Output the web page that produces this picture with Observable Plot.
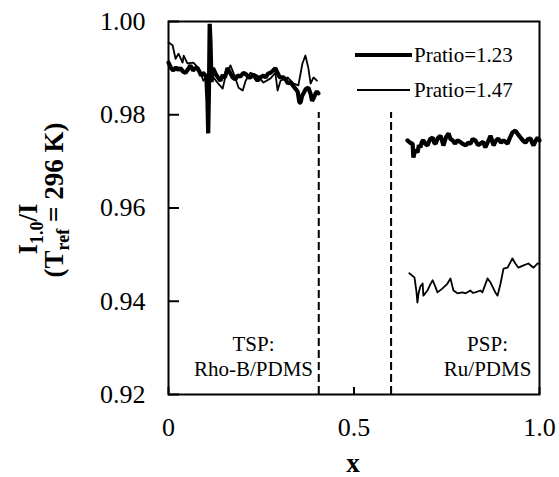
<!DOCTYPE html>
<html>
<head>
<meta charset="utf-8">
<script src="https://cdn.jsdelivr.net/npm/d3@7"></script>
<script src="https://cdn.jsdelivr.net/npm/@observablehq/plot@0.6"></script>
<style>
  html, body { margin: 0; padding: 0; background: #fff; }
</style>
</head>
<body>
<div id="chart"></div>
<script>
// ---- data ----
const seriesNames = ["Pratio=1.23", "Pratio=1.47"];

// Pratio=1.23 (thick), TSP region [x, I1.0/I]
const tsp123 = [[0,0.9912],[0.007,0.9900],[0.013,0.9895],[0.020,0.9902],[0.026,0.9896],[0.032,0.9900],[0.040,0.9892],[0.046,0.9890],[0.052,0.9897],[0.059,0.9906],[0.066,0.9895],[0.072,0.9900],[0.078,0.9900],[0.083,0.9893],[0.088,0.9884],[0.093,0.9890],[0.098,0.9886],[0.102,0.9880],[0.105,0.9830],[0.107,0.9760],[0.109,0.9850],[0.111,0.9995],[0.113,0.9960],[0.116,0.9870],[0.120,0.9900],[0.127,0.9888],[0.133,0.9880],[0.140,0.9873],[0.146,0.9885],[0.152,0.9880],[0.159,0.9900],[0.166,0.9890],[0.173,0.9880],[0.180,0.9876],[0.186,0.9884],[0.194,0.9882],[0.202,0.9890],[0.210,0.9886],[0.216,0.9880],[0.221,0.9880],[0.228,0.9887],[0.234,0.9880],[0.240,0.9873],[0.247,0.9880],[0.256,0.9884],[0.262,0.9880],[0.268,0.9888],[0.275,0.9890],[0.282,0.9895],[0.288,0.9900],[0.294,0.9890],[0.300,0.9880],[0.310,0.9880],[0.316,0.9875],[0.322,0.9867],[0.329,0.9870],[0.336,0.9862],[0.342,0.9856],[0.348,0.9850],[0.353,0.9826],[0.356,0.9826],[0.360,0.9840],[0.364,0.9846],[0.370,0.9855],[0.377,0.9858],[0.383,0.9845],[0.387,0.9830],[0.391,0.9835],[0.396,0.9845],[0.400,0.9850],[0.404,0.9846]];

// Pratio=1.47 (thin), TSP region
const tsp147 = [[0,0.9955],[0.011,0.9949],[0.019,0.9920],[0.027,0.9931],[0.038,0.9912],[0.041,0.9927],[0.051,0.9910],[0.067,0.9912],[0.081,0.9900],[0.086,0.9890],[0.094,0.9873],[0.105,0.9885],[0.113,0.9895],[0.121,0.9880],[0.132,0.9869],[0.146,0.9856],[0.154,0.9884],[0.167,0.9906],[0.175,0.9890],[0.189,0.9858],[0.200,0.9852],[0.208,0.9873],[0.221,0.9890],[0.240,0.9884],[0.256,0.9869],[0.275,0.9878],[0.288,0.9890],[0.294,0.9852],[0.302,0.9873],[0.321,0.9880],[0.337,0.9867],[0.350,0.9863],[0.361,0.9910],[0.369,0.9927],[0.377,0.9900],[0.383,0.9867],[0.391,0.9880],[0.400,0.9873]];

// Pratio=1.23 (thick), PSP region
const psp123 = [[0.644,0.9745],[0.651,0.9740],[0.658,0.9738],[0.660,0.9708],[0.665,0.9725],[0.671,0.9719],[0.675,0.9735],[0.679,0.9730],[0.683,0.9742],[0.687,0.9745],[0.692,0.9738],[0.698,0.9734],[0.705,0.9748],[0.712,0.9751],[0.716,0.9740],[0.720,0.9738],[0.726,0.9750],[0.733,0.9755],[0.737,0.9745],[0.741,0.9734],[0.748,0.9752],[0.755,0.9760],[0.760,0.9748],[0.766,0.9745],[0.772,0.9738],[0.779,0.9745],[0.786,0.9742],[0.792,0.9738],[0.801,0.9734],[0.807,0.9740],[0.814,0.9738],[0.820,0.9748],[0.827,0.9745],[0.834,0.9735],[0.841,0.9738],[0.848,0.9742],[0.854,0.9730],[0.861,0.9742],[0.868,0.9755],[0.872,0.9745],[0.876,0.9734],[0.883,0.9745],[0.889,0.9749],[0.896,0.9740],[0.903,0.9745],[0.908,0.9742],[0.914,0.9738],[0.920,0.9750],[0.927,0.9762],[0.935,0.9766],[0.942,0.9758],[0.949,0.9751],[0.955,0.9745],[0.962,0.9740],[0.969,0.9748],[0.976,0.9749],[0.980,0.9740],[0.984,0.9734],[0.990,0.9745],[0.995,0.9751],[1.000,0.9745]];

// Pratio=1.47 (thin), PSP region
const psp147 = [[0.649,0.9460],[0.657,0.9455],[0.663,0.9451],[0.668,0.9423],[0.671,0.9397],[0.674,0.9417],[0.679,0.9432],[0.685,0.9438],[0.687,0.9412],[0.698,0.9423],[0.705,0.9435],[0.712,0.9445],[0.719,0.9432],[0.725,0.9419],[0.738,0.9427],[0.752,0.9438],[0.760,0.9449],[0.768,0.9423],[0.779,0.9417],[0.792,0.9419],[0.801,0.9417],[0.814,0.9423],[0.820,0.9418],[0.827,0.9419],[0.841,0.9423],[0.846,0.9419],[0.860,0.9449],[0.868,0.9440],[0.881,0.9419],[0.887,0.9412],[0.895,0.9438],[0.903,0.9470],[0.914,0.9472],[0.927,0.9492],[0.935,0.9481],[0.943,0.9472],[0.957,0.9477],[0.970,0.9481],[0.984,0.9472],[0.995,0.9481],[1.000,0.9480]];

const yTicks = [0.92, 0.94, 0.96, 0.98, 1.00];
const yTickLabels = ["0.92", "0.94", "0.96", "0.98", "1.00"];
const xTicks = [0, 0.5, 1.0];
const xTickLabels = ["0", "0.5", "1.0"];

const dividerX = [0.405, 0.6];
const dividerTop = 0.9805;

const annotLabels = ["TSP:\nRho-B/PDMS", "PSP:\nRu/PDMS"];
const annotX = [0.229, 0.86];
const annotY = [0.9284, 0.9284];

// ---- build table ----
const rows = [];
const addSeg = (arr, series, seg) => arr.forEach(([x, y]) => rows.push({x, y, series, seg}));
addSeg(tsp123, seriesNames[0], "a");
addSeg(psp123, seriesNames[0], "b");
addSeg(tsp147, seriesNames[1], "c");
addSeg(psp147, seriesNames[1], "d");
const annots = annotLabels.map((t, i) => ({t, x: annotX[i], y: annotY[i]}));

const W = 559, H = 477, ML = 168, MR = 20, MT = 21, MB = 83;
const frameW = W - ML - MR, frameH = H - MT - MB;

const chart = Plot.plot({
  width: W,
  height: H,
  marginLeft: ML,
  marginRight: MR,
  marginTop: MT,
  marginBottom: MB,
  style: {fontFamily: '"Liberation Serif", "Times New Roman", serif', fontSize: "26px", color: "#000", background: "#fff", overflow: "visible"},
  x: {domain: [0, 1]},
  y: {domain: [0.92, 1.0]},
  marks: [
    Plot.axisY({ticks: yTicks, tickFormat: (d) => yTickLabels[yTicks.indexOf(d)], tickSize: 0, tickPadding: 23, label: null}),
    Plot.axisX({ticks: xTicks, tickFormat: (d) => xTickLabels[xTicks.indexOf(d)], tickSize: 0, tickPadding: 23, label: null}),
    // inward tick marks
    Plot.tickY(yTicks, {y: (d) => d, stroke: "black", strokeWidth: 2, insetRight: frameW - 11}),
    Plot.tickX(xTicks, {x: (d) => d, stroke: "black", strokeWidth: 2, insetTop: frameH - 7}),
    Plot.ruleX(dividerX, {y1: 0.92, y2: dividerTop, stroke: "black", strokeWidth: 2, strokeDasharray: "8,4"}),
    Plot.line(rows.filter(d => d.series === seriesNames[1]), {x: "x", y: "y", z: "seg", stroke: "black", strokeWidth: 1.8, curve: "linear"}),
    Plot.line(rows.filter(d => d.series === seriesNames[0]), {x: "x", y: "y", z: "seg", stroke: "black", strokeWidth: 4.2, strokeLinejoin: "miter", curve: "linear"}),
    Plot.text(annots, {x: "x", y: "y", text: "t", fontSize: 21, lineHeight: 1.2, textAnchor: "middle", lineAnchor: "middle", fill: "black"}),
    Plot.frame({stroke: "black", strokeWidth: 2})
  ]
});
document.getElementById("chart").appendChild(chart);

// ---- axis titles and legend ----
const svg = d3.select(chart);
const serif = '"Liberation Serif", "Times New Roman", serif';

const t1 = svg.append("text")
  .attr("transform", "translate(37,229) rotate(-90)")
  .attr("text-anchor", "middle").attr("font-weight", "bold")
  .attr("font-family", serif).attr("font-size", 27).attr("fill", "#000");
t1.append("tspan").text("I");
t1.append("tspan").attr("font-size", 18).attr("dy", 6).text("1.0");
t1.append("tspan").attr("dy", -6).text("/I");

const t2 = svg.append("text")
  .attr("transform", "translate(63,200) rotate(-90)")
  .attr("text-anchor", "middle").attr("font-weight", "bold")
  .attr("font-family", serif).attr("font-size", 27).attr("fill", "#000");
t2.append("tspan").text("(T");
t2.append("tspan").attr("font-size", 18).attr("dy", 6).text("ref");
t2.append("tspan").attr("dy", -6).text(" = 296 K)");

svg.append("text")
  .attr("x", 353).attr("y", 472)
  .attr("text-anchor", "middle").attr("font-weight", "bold")
  .attr("font-family", serif).attr("font-size", 27).attr("fill", "#000")
  .text("x");

const legend = [
  {name: seriesNames[0], w: 4.2, x1: 355, x2: 412, y: 55},
  {name: seriesNames[1], w: 1.8, x1: 357, x2: 410, y: 90}
];
legend.forEach(l => {
  svg.append("line").attr("x1", l.x1).attr("x2", l.x2).attr("y1", l.y).attr("y2", l.y)
    .attr("stroke", "#000").attr("stroke-width", l.w);
  svg.append("text").attr("x", 414).attr("y", l.y + 7)
    .attr("text-anchor", "start")
    .attr("font-family", serif).attr("font-size", 21).attr("fill", "#000")
    .text(l.name);
});
</script>
</body>
</html>
